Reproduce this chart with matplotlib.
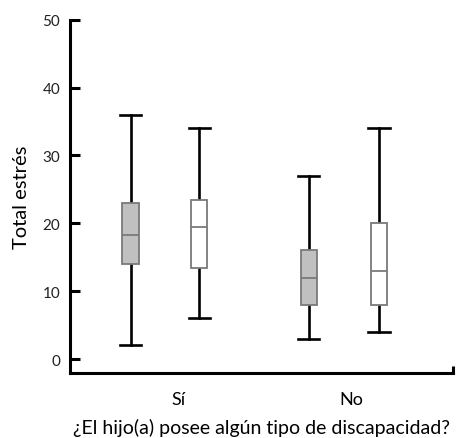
import matplotlib.pyplot as plt

plt.rcParams['font.family'] = ['Lato', 'DejaVu Sans']

# Estadísticos: mínimo, Q1, mediana, Q3, máximo
groups = ['Sí', 'No']
whislo = [2, 6, 3, 4]
q1 = [14, 13.4, 8, 8]
med = [18.2, 19.5, 11.9, 13]
q3 = [23, 23.4, 16.1, 20]
whishi = [36, 34, 27, 34]
fills = ['#c0c0c0', 'white', '#c0c0c0', 'white']
yticks = [0, 10, 20, 30, 40, 50]

positions = [0.158, 0.337, 0.624, 0.807]
group_pos = [0.282, 0.736]

stats = []
for i in range(len(whislo)):
    stats.append({'whislo': whislo[i], 'q1': q1[i], 'med': med[i],
                  'q3': q3[i], 'whishi': whishi[i], 'fliers': []})

fig = plt.figure(figsize=(4.64, 4.39), dpi=100)
ax = fig.add_axes([0.151, 0.148, 0.825, 0.805])

bp = ax.bxp(stats, positions=positions, widths=0.043, patch_artist=True,
            showfliers=False,
            boxprops=dict(edgecolor='#7a7a7a', linewidth=1.3),
            medianprops=dict(color='#7a7a7a', linewidth=1.3),
            whiskerprops=dict(color='black', linewidth=1.9),
            capprops=dict(color='black', linewidth=1.9),
            capwidths=0.055)
for patch, c in zip(bp['boxes'], fills):
    patch.set_facecolor(c)

# Las cajas se dibujan sobre los bigotes
for patch in bp['boxes']:
    patch.set_zorder(3)
for m in bp['medians']:
    m.set_zorder(4)

ax.set_xlim(0, 1)
ax.set_ylim(-2.06, 50)
ax.spines['top'].set_visible(False)
ax.spines['right'].set_visible(False)
ax.spines['left'].set_linewidth(2.2)
ax.spines['bottom'].set_linewidth(2.2)
ax.spines['left'].set_bounds(-2.06, 50)

ax.set_yticks(yticks)
ax.tick_params(axis='y', direction='in', length=7, width=2.2, labelsize=11,
               pad=7, labelcolor='#222222')
ax.set_xticks(group_pos)
ax.set_xticklabels(groups)
ax.tick_params(axis='x', length=0, labelsize=13, pad=13)
ax.set_xticks([1], minor=True)
ax.tick_params(axis='x', which='minor', direction='in', length=5, width=2.2)

ax.set_ylabel('Total estrés', fontsize=14.5, labelpad=9)
ax.set_xlabel('¿El hijo(a) posee algún tipo de discapacidad?', fontsize=14, labelpad=7.5)

plt.savefig('out.png', dpi=100)
